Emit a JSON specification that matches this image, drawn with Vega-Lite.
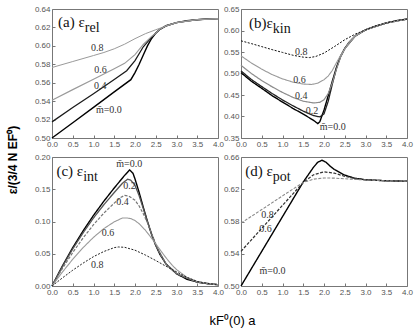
{
  "$schema": "https://vega.github.io/schema/vega-lite/v6.json",
  "background": "white",
  "padding": {"left": 6, "top": 4, "right": 2, "bottom": 5},
  "title": {"text": "ε/(3/4 N EF⁰)", "orient": "left", "anchor": "middle", "font": "Liberation Sans", "fontSize": 12, "fontWeight": "bold", "color": "black", "offset": 14, "dx": 6},
  "columns": 2,
  "spacing": {"row": 19, "column": 23},
  "bounds": "flush",
  "resolve": {"scale": {"color": "independent", "strokeDash": "independent", "strokeWidth": "independent"}},
  "datasets": {
    "a": [
      {"m": "0.0", "x": 0, "y": 0.5}, {"m": "0.0", "x": 0.5, "y": 0.5166}, {"m": "0.0", "x": 1.0, "y": 0.5333}, {"m": "0.0", "x": 1.5, "y": 0.55}, {"m": "0.0", "x": 1.9, "y": 0.5633}, {"m": "0.0", "x": 2.0, "y": 0.571}, {"m": "0.0", "x": 2.1, "y": 0.58}, {"m": "0.0", "x": 2.2, "y": 0.59}, {"m": "0.0", "x": 2.3, "y": 0.6}, {"m": "0.0", "x": 2.4, "y": 0.608}, {"m": "0.0", "x": 2.5, "y": 0.6138}, {"m": "0.0", "x": 2.6, "y": 0.618}, {"m": "0.0", "x": 2.75, "y": 0.6218}, {"m": "0.0", "x": 3.0, "y": 0.6252}, {"m": "0.0", "x": 3.25, "y": 0.6272}, {"m": "0.0", "x": 3.5, "y": 0.6284}, {"m": "0.0", "x": 3.75, "y": 0.6291}, {"m": "0.0", "x": 4.0, "y": 0.6295},
      {"m": "0.4", "x": 0, "y": 0.5175}, {"m": "0.4", "x": 0.5, "y": 0.533}, {"m": "0.4", "x": 1.0, "y": 0.548}, {"m": "0.4", "x": 1.5, "y": 0.5635}, {"m": "0.4", "x": 1.8, "y": 0.573}, {"m": "0.4", "x": 2.0, "y": 0.584}, {"m": "0.4", "x": 2.2, "y": 0.599}, {"m": "0.4", "x": 2.4, "y": 0.6095}, {"m": "0.4", "x": 2.5, "y": 0.6138}, {"m": "0.4", "x": 2.6, "y": 0.618}, {"m": "0.4", "x": 2.75, "y": 0.6218}, {"m": "0.4", "x": 3.0, "y": 0.6252}, {"m": "0.4", "x": 3.5, "y": 0.6284}, {"m": "0.4", "x": 4.0, "y": 0.6295},
      {"m": "0.6", "x": 0, "y": 0.541}, {"m": "0.6", "x": 0.5, "y": 0.5525}, {"m": "0.6", "x": 1.0, "y": 0.5638}, {"m": "0.6", "x": 1.5, "y": 0.5752}, {"m": "0.6", "x": 1.75, "y": 0.581}, {"m": "0.6", "x": 2.0, "y": 0.5905}, {"m": "0.6", "x": 2.2, "y": 0.6015}, {"m": "0.6", "x": 2.4, "y": 0.6102}, {"m": "0.6", "x": 2.5, "y": 0.6138}, {"m": "0.6", "x": 2.6, "y": 0.618}, {"m": "0.6", "x": 2.75, "y": 0.6218}, {"m": "0.6", "x": 3.0, "y": 0.6252}, {"m": "0.6", "x": 3.5, "y": 0.6284}, {"m": "0.6", "x": 4.0, "y": 0.6295},
      {"m": "0.8", "x": 0, "y": 0.5765}, {"m": "0.8", "x": 0.5, "y": 0.583}, {"m": "0.8", "x": 1.0, "y": 0.5895}, {"m": "0.8", "x": 1.25, "y": 0.5928}, {"m": "0.8", "x": 1.5, "y": 0.5968}, {"m": "0.8", "x": 1.75, "y": 0.6018}, {"m": "0.8", "x": 2.0, "y": 0.6078}, {"m": "0.8", "x": 2.25, "y": 0.6132}, {"m": "0.8", "x": 2.5, "y": 0.6175}, {"m": "0.8", "x": 2.75, "y": 0.6215}, {"m": "0.8", "x": 3.0, "y": 0.6252}, {"m": "0.8", "x": 3.5, "y": 0.6284}, {"m": "0.8", "x": 4.0, "y": 0.6295}
    ],
    "b": [
      {"m": "0.0", "x": 0, "y": 0.502}, {"m": "0.0", "x": 0.25, "y": 0.482}, {"m": "0.0", "x": 0.5, "y": 0.4655}, {"m": "0.0", "x": 0.75, "y": 0.4485}, {"m": "0.0", "x": 1.0, "y": 0.4335}, {"m": "0.0", "x": 1.25, "y": 0.419}, {"m": "0.0", "x": 1.5, "y": 0.4055}, {"m": "0.0", "x": 1.75, "y": 0.391}, {"m": "0.0", "x": 1.85, "y": 0.3835}, {"m": "0.0", "x": 1.9, "y": 0.388}, {"m": "0.0", "x": 2.0, "y": 0.415}, {"m": "0.0", "x": 2.1, "y": 0.448}, {"m": "0.0", "x": 2.2, "y": 0.482}, {"m": "0.0", "x": 2.3, "y": 0.514}, {"m": "0.0", "x": 2.4, "y": 0.54}, {"m": "0.0", "x": 2.5, "y": 0.558}, {"m": "0.0", "x": 2.6, "y": 0.572}, {"m": "0.0", "x": 2.75, "y": 0.587}, {"m": "0.0", "x": 3.0, "y": 0.6015}, {"m": "0.0", "x": 3.25, "y": 0.6105}, {"m": "0.0", "x": 3.5, "y": 0.6175}, {"m": "0.0", "x": 3.75, "y": 0.623}, {"m": "0.0", "x": 4.0, "y": 0.6265},
      {"m": "0.2", "x": 0, "y": 0.506}, {"m": "0.2", "x": 0.25, "y": 0.486}, {"m": "0.2", "x": 0.5, "y": 0.4695}, {"m": "0.2", "x": 0.75, "y": 0.4535}, {"m": "0.2", "x": 1.0, "y": 0.4385}, {"m": "0.2", "x": 1.25, "y": 0.425}, {"m": "0.2", "x": 1.5, "y": 0.4125}, {"m": "0.2", "x": 1.75, "y": 0.402}, {"m": "0.2", "x": 1.9, "y": 0.399}, {"m": "0.2", "x": 2.0, "y": 0.406}, {"m": "0.2", "x": 2.1, "y": 0.435}, {"m": "0.2", "x": 2.2, "y": 0.475}, {"m": "0.2", "x": 2.3, "y": 0.512}, {"m": "0.2", "x": 2.4, "y": 0.54}, {"m": "0.2", "x": 2.5, "y": 0.558}, {"m": "0.2", "x": 2.75, "y": 0.587}, {"m": "0.2", "x": 3.0, "y": 0.6015}, {"m": "0.2", "x": 3.5, "y": 0.6175}, {"m": "0.2", "x": 4.0, "y": 0.6265},
      {"m": "0.4", "x": 0, "y": 0.519}, {"m": "0.4", "x": 0.25, "y": 0.5}, {"m": "0.4", "x": 0.5, "y": 0.4835}, {"m": "0.4", "x": 0.75, "y": 0.469}, {"m": "0.4", "x": 1.0, "y": 0.456}, {"m": "0.4", "x": 1.25, "y": 0.4445}, {"m": "0.4", "x": 1.5, "y": 0.4355}, {"m": "0.4", "x": 1.75, "y": 0.4315}, {"m": "0.4", "x": 1.9, "y": 0.433}, {"m": "0.4", "x": 2.0, "y": 0.439}, {"m": "0.4", "x": 2.1, "y": 0.453}, {"m": "0.4", "x": 2.2, "y": 0.478}, {"m": "0.4", "x": 2.3, "y": 0.51}, {"m": "0.4", "x": 2.4, "y": 0.538}, {"m": "0.4", "x": 2.5, "y": 0.557}, {"m": "0.4", "x": 2.75, "y": 0.587}, {"m": "0.4", "x": 3.0, "y": 0.6015}, {"m": "0.4", "x": 3.5, "y": 0.6175}, {"m": "0.4", "x": 4.0, "y": 0.6265},
      {"m": "0.6", "x": 0, "y": 0.541}, {"m": "0.6", "x": 0.25, "y": 0.5245}, {"m": "0.6", "x": 0.5, "y": 0.51}, {"m": "0.6", "x": 0.75, "y": 0.4975}, {"m": "0.6", "x": 1.0, "y": 0.4875}, {"m": "0.6", "x": 1.25, "y": 0.48}, {"m": "0.6", "x": 1.5, "y": 0.4755}, {"m": "0.6", "x": 1.7, "y": 0.4745}, {"m": "0.6", "x": 1.85, "y": 0.4775}, {"m": "0.6", "x": 2.0, "y": 0.4855}, {"m": "0.6", "x": 2.1, "y": 0.494}, {"m": "0.6", "x": 2.2, "y": 0.507}, {"m": "0.6", "x": 2.3, "y": 0.525}, {"m": "0.6", "x": 2.4, "y": 0.542}, {"m": "0.6", "x": 2.5, "y": 0.557}, {"m": "0.6", "x": 2.6, "y": 0.572}, {"m": "0.6", "x": 2.75, "y": 0.587}, {"m": "0.6", "x": 3.0, "y": 0.6015}, {"m": "0.6", "x": 3.5, "y": 0.6175}, {"m": "0.6", "x": 4.0, "y": 0.6265},
      {"m": "0.8", "x": 0, "y": 0.576}, {"m": "0.8", "x": 0.25, "y": 0.5695}, {"m": "0.8", "x": 0.5, "y": 0.5625}, {"m": "0.8", "x": 0.75, "y": 0.5555}, {"m": "0.8", "x": 1.0, "y": 0.549}, {"m": "0.8", "x": 1.25, "y": 0.5425}, {"m": "0.8", "x": 1.5, "y": 0.538}, {"m": "0.8", "x": 1.65, "y": 0.537}, {"m": "0.8", "x": 1.8, "y": 0.5395}, {"m": "0.8", "x": 2.0, "y": 0.5475}, {"m": "0.8", "x": 2.25, "y": 0.5625}, {"m": "0.8", "x": 2.5, "y": 0.5785}, {"m": "0.8", "x": 2.75, "y": 0.5915}, {"m": "0.8", "x": 3.0, "y": 0.6015}, {"m": "0.8", "x": 3.25, "y": 0.6105}, {"m": "0.8", "x": 3.5, "y": 0.6175}, {"m": "0.8", "x": 3.75, "y": 0.623}, {"m": "0.8", "x": 4.0, "y": 0.6265}
    ],
    "c": [
      {"m": "0.0", "x": 0, "y": 0}, {"m": "0.0", "x": 0.25, "y": 0.031}, {"m": "0.0", "x": 0.5, "y": 0.0595}, {"m": "0.0", "x": 0.75, "y": 0.0855}, {"m": "0.0", "x": 1.0, "y": 0.1095}, {"m": "0.0", "x": 1.25, "y": 0.1315}, {"m": "0.0", "x": 1.5, "y": 0.152}, {"m": "0.0", "x": 1.75, "y": 0.1715}, {"m": "0.0", "x": 1.87, "y": 0.18}, {"m": "0.0", "x": 1.95, "y": 0.175}, {"m": "0.0", "x": 2.0, "y": 0.166}, {"m": "0.0", "x": 2.1, "y": 0.145}, {"m": "0.0", "x": 2.2, "y": 0.122}, {"m": "0.0", "x": 2.3, "y": 0.1}, {"m": "0.0", "x": 2.4, "y": 0.08}, {"m": "0.0", "x": 2.5, "y": 0.063}, {"m": "0.0", "x": 2.6, "y": 0.049}, {"m": "0.0", "x": 2.75, "y": 0.034}, {"m": "0.0", "x": 3.0, "y": 0.019}, {"m": "0.0", "x": 3.25, "y": 0.0105}, {"m": "0.0", "x": 3.5, "y": 0.006}, {"m": "0.0", "x": 3.75, "y": 0.0035}, {"m": "0.0", "x": 4.0, "y": 0.002},
      {"m": "0.2", "x": 0, "y": 0}, {"m": "0.2", "x": 0.25, "y": 0.03}, {"m": "0.2", "x": 0.5, "y": 0.0575}, {"m": "0.2", "x": 0.75, "y": 0.0825}, {"m": "0.2", "x": 1.0, "y": 0.1055}, {"m": "0.2", "x": 1.25, "y": 0.126}, {"m": "0.2", "x": 1.5, "y": 0.145}, {"m": "0.2", "x": 1.7, "y": 0.1595}, {"m": "0.2", "x": 1.82, "y": 0.1655}, {"m": "0.2", "x": 1.9, "y": 0.164}, {"m": "0.2", "x": 2.0, "y": 0.156}, {"m": "0.2", "x": 2.1, "y": 0.14}, {"m": "0.2", "x": 2.2, "y": 0.12}, {"m": "0.2", "x": 2.3, "y": 0.1}, {"m": "0.2", "x": 2.4, "y": 0.08}, {"m": "0.2", "x": 2.5, "y": 0.063}, {"m": "0.2", "x": 2.75, "y": 0.034}, {"m": "0.2", "x": 3.0, "y": 0.019}, {"m": "0.2", "x": 3.5, "y": 0.006}, {"m": "0.2", "x": 4.0, "y": 0.002},
      {"m": "0.4", "x": 0, "y": 0}, {"m": "0.4", "x": 0.25, "y": 0.027}, {"m": "0.4", "x": 0.5, "y": 0.052}, {"m": "0.4", "x": 0.75, "y": 0.0745}, {"m": "0.4", "x": 1.0, "y": 0.095}, {"m": "0.4", "x": 1.25, "y": 0.113}, {"m": "0.4", "x": 1.5, "y": 0.1285}, {"m": "0.4", "x": 1.65, "y": 0.137}, {"m": "0.4", "x": 1.75, "y": 0.1405}, {"m": "0.4", "x": 1.85, "y": 0.1395}, {"m": "0.4", "x": 2.0, "y": 0.133}, {"m": "0.4", "x": 2.1, "y": 0.124}, {"m": "0.4", "x": 2.2, "y": 0.112}, {"m": "0.4", "x": 2.3, "y": 0.098}, {"m": "0.4", "x": 2.4, "y": 0.0815}, {"m": "0.4", "x": 2.5, "y": 0.065}, {"m": "0.4", "x": 2.6, "y": 0.05}, {"m": "0.4", "x": 2.75, "y": 0.0345}, {"m": "0.4", "x": 3.0, "y": 0.019}, {"m": "0.4", "x": 3.5, "y": 0.006}, {"m": "0.4", "x": 4.0, "y": 0.002},
      {"m": "0.6", "x": 0, "y": 0}, {"m": "0.6", "x": 0.25, "y": 0.0215}, {"m": "0.6", "x": 0.5, "y": 0.0415}, {"m": "0.6", "x": 0.75, "y": 0.0595}, {"m": "0.6", "x": 1.0, "y": 0.0755}, {"m": "0.6", "x": 1.25, "y": 0.089}, {"m": "0.6", "x": 1.5, "y": 0.0995}, {"m": "0.6", "x": 1.7, "y": 0.1055}, {"m": "0.6", "x": 1.8, "y": 0.1055}, {"m": "0.6", "x": 1.9, "y": 0.1045}, {"m": "0.6", "x": 2.0, "y": 0.1015}, {"m": "0.6", "x": 2.1, "y": 0.0965}, {"m": "0.6", "x": 2.25, "y": 0.0865}, {"m": "0.6", "x": 2.4, "y": 0.074}, {"m": "0.6", "x": 2.5, "y": 0.0655}, {"m": "0.6", "x": 2.6, "y": 0.0565}, {"m": "0.6", "x": 2.75, "y": 0.0435}, {"m": "0.6", "x": 2.9, "y": 0.032}, {"m": "0.6", "x": 3.0, "y": 0.0255}, {"m": "0.6", "x": 3.25, "y": 0.0135}, {"m": "0.6", "x": 3.5, "y": 0.007}, {"m": "0.6", "x": 3.75, "y": 0.004}, {"m": "0.6", "x": 4.0, "y": 0.002},
      {"m": "0.8", "x": 0, "y": 0}, {"m": "0.8", "x": 0.25, "y": 0.0125}, {"m": "0.8", "x": 0.5, "y": 0.0245}, {"m": "0.8", "x": 0.75, "y": 0.0355}, {"m": "0.8", "x": 1.0, "y": 0.0455}, {"m": "0.8", "x": 1.25, "y": 0.0535}, {"m": "0.8", "x": 1.5, "y": 0.0595}, {"m": "0.8", "x": 1.6, "y": 0.0605}, {"m": "0.8", "x": 1.75, "y": 0.06}, {"m": "0.8", "x": 2.0, "y": 0.0555}, {"m": "0.8", "x": 2.25, "y": 0.048}, {"m": "0.8", "x": 2.5, "y": 0.0395}, {"m": "0.8", "x": 2.75, "y": 0.0305}, {"m": "0.8", "x": 3.0, "y": 0.022}, {"m": "0.8", "x": 3.25, "y": 0.0135}, {"m": "0.8", "x": 3.5, "y": 0.007}, {"m": "0.8", "x": 3.75, "y": 0.004}, {"m": "0.8", "x": 4.0, "y": 0.002}
    ],
    "d": [
      {"m": "0.0", "x": 0, "y": 0.5}, {"m": "0.0", "x": 0.5, "y": 0.543}, {"m": "0.0", "x": 1.0, "y": 0.586}, {"m": "0.0", "x": 1.5, "y": 0.629}, {"m": "0.0", "x": 1.75, "y": 0.6475}, {"m": "0.0", "x": 1.85, "y": 0.6535}, {"m": "0.0", "x": 1.95, "y": 0.656}, {"m": "0.0", "x": 2.05, "y": 0.6535}, {"m": "0.0", "x": 2.15, "y": 0.6485}, {"m": "0.0", "x": 2.25, "y": 0.6445}, {"m": "0.0", "x": 2.5, "y": 0.6375}, {"m": "0.0", "x": 2.75, "y": 0.6335}, {"m": "0.0", "x": 3.0, "y": 0.6318}, {"m": "0.0", "x": 3.5, "y": 0.6305}, {"m": "0.0", "x": 4.0, "y": 0.63},
      {"m": "0.6", "x": 0, "y": 0.543}, {"m": "0.6", "x": 0.5, "y": 0.5715}, {"m": "0.6", "x": 1.0, "y": 0.6}, {"m": "0.6", "x": 1.5, "y": 0.6285}, {"m": "0.6", "x": 1.75, "y": 0.638}, {"m": "0.6", "x": 2.0, "y": 0.6415}, {"m": "0.6", "x": 2.25, "y": 0.64}, {"m": "0.6", "x": 2.5, "y": 0.636}, {"m": "0.6", "x": 2.75, "y": 0.6335}, {"m": "0.6", "x": 3.0, "y": 0.6318}, {"m": "0.6", "x": 3.5, "y": 0.6305}, {"m": "0.6", "x": 4.0, "y": 0.63},
      {"m": "0.8", "x": 0, "y": 0.578}, {"m": "0.8", "x": 0.5, "y": 0.5948}, {"m": "0.8", "x": 1.0, "y": 0.6118}, {"m": "0.8", "x": 1.5, "y": 0.6285}, {"m": "0.8", "x": 1.75, "y": 0.6325}, {"m": "0.8", "x": 2.0, "y": 0.634}, {"m": "0.8", "x": 2.25, "y": 0.6338}, {"m": "0.8", "x": 2.5, "y": 0.633}, {"m": "0.8", "x": 2.75, "y": 0.6322}, {"m": "0.8", "x": 3.0, "y": 0.6315}, {"m": "0.8", "x": 3.5, "y": 0.6305}, {"m": "0.8", "x": 4.0, "y": 0.63}
    ],
    "labels": [
      {"panel": "a", "x": 1.09, "y": 0.5975, "text": "0.8"}, {"panel": "a", "x": 1.17, "y": 0.5735, "text": "0.6"}, {"panel": "a", "x": 1.16, "y": 0.5565, "text": "0.4"}, {"panel": "a", "x": 1.37, "y": 0.53, "text": "m̄=0.0"},
      {"panel": "b", "x": 1.45, "y": 0.5495, "text": "0.8"}, {"panel": "b", "x": 1.41, "y": 0.4855, "text": "0.6"}, {"panel": "b", "x": 1.45, "y": 0.447, "text": "0.4"}, {"panel": "b", "x": 1.71, "y": 0.4135, "text": "0.2"}, {"panel": "b", "x": 2.21, "y": 0.3745, "text": "m̄=0.0"},
      {"panel": "c", "x": 1.86, "y": 0.1887, "text": "m̄=0.0"}, {"panel": "c", "x": 1.87, "y": 0.1554, "text": "0.2"}, {"panel": "c", "x": 1.7, "y": 0.1297, "text": "0.4"}, {"panel": "c", "x": 1.35, "y": 0.082, "text": "0.6"}, {"panel": "c", "x": 1.09, "y": 0.0333, "text": "0.8"},
      {"panel": "d", "x": 0.64, "y": 0.5878, "text": "0.8"}, {"panel": "d", "x": 0.59, "y": 0.5705, "text": "0.6"}, {"panel": "d", "x": 0.76, "y": 0.518, "text": "m̄=0.0"}
    ],
    "heads": [
      {"panel": "a", "x": 0.79, "y": 0.6205, "main": "(a) ε", "sub": "rel"},
      {"panel": "b", "x": 0.765, "y": 0.6055, "main": "(b)ε", "sub": "kin"},
      {"panel": "c", "x": 0.75, "y": 0.1705, "main": "(c) ε", "sub": "int"},
      {"panel": "d", "x": 0.765, "y": 0.636, "main": "(d) ε", "sub": "pot"}
    ]
  },
  "concat": [
    {
      "width": 166, "height": 129,
      "encoding": {
        "x": {"field": "x", "type": "quantitative", "title": null, "scale": {"domain": [0, 4], "nice": false}, "axis": {"values": [0, 0.5, 1, 1.5, 2, 2.5, 3, 3.5, 4], "format": ".1f"}},
        "y": {"field": "y", "type": "quantitative", "title": null, "scale": {"domain": [0.5, 0.64], "nice": false, "zero": false}, "axis": {"values": [0.5, 0.52, 0.54, 0.56, 0.58, 0.6, 0.62, 0.64], "format": ".2f"}}
      },
      "layer": [
        {"data": {"name": "a"}, "mark": {"type": "line"},
         "encoding": {
           "color": {"field": "m", "type": "nominal", "legend": null, "scale": {"domain": ["0.0", "0.4", "0.6", "0.8"], "range": ["#000000", "#1a1a1a", "#9a9a9a", "#9a9a9a"]}},
           "strokeWidth": {"field": "m", "type": "nominal", "legend": null, "scale": {"domain": ["0.0", "0.4", "0.6", "0.8"], "range": [1.4, 1, 1.1, 1.1]}}
         }},
        {"data": {"name": "labels"}, "transform": [{"filter": "datum.panel == 'a'"}], "mark": {"type": "text", "font": "Liberation Serif", "fontSize": 10, "color": "#333"}, "encoding": {"text": {"field": "text"}}},
        {"data": {"name": "heads"}, "transform": [{"filter": "datum.panel == 'a'"}], "mark": {"type": "text", "font": "Liberation Serif", "fontSize": 15, "align": "right", "baseline": "alphabetic", "color": "#111"}, "encoding": {"text": {"field": "main"}}},
        {"data": {"name": "heads"}, "transform": [{"filter": "datum.panel == 'a'"}], "mark": {"type": "text", "font": "Liberation Serif", "fontSize": 14, "align": "left", "baseline": "alphabetic", "dy": 5, "color": "#111"}, "encoding": {"text": {"field": "sub"}}}
      ]
    },
    {
      "width": 166, "height": 129,
      "encoding": {
        "x": {"field": "x", "type": "quantitative", "title": null, "scale": {"domain": [0, 4], "nice": false}, "axis": {"values": [0, 0.5, 1, 1.5, 2, 2.5, 3, 3.5, 4], "format": ".1f"}},
        "y": {"field": "y", "type": "quantitative", "title": null, "scale": {"domain": [0.35, 0.65], "nice": false, "zero": false}, "axis": {"values": [0.35, 0.4, 0.45, 0.5, 0.55, 0.6, 0.65], "format": ".2f"}}
      },
      "layer": [
        {"data": {"name": "b"}, "mark": {"type": "line"},
         "encoding": {
           "color": {"field": "m", "type": "nominal", "legend": null, "scale": {"domain": ["0.0", "0.2", "0.4", "0.6", "0.8"], "range": ["#000000", "#222222", "#8c8c8c", "#9a9a9a", "#111111"]}},
           "strokeWidth": {"field": "m", "type": "nominal", "legend": null, "scale": {"domain": ["0.0", "0.2", "0.4", "0.6", "0.8"], "range": [1.4, 1, 1.1, 1.1, 1.3]}},
           "strokeDash": {"field": "m", "type": "nominal", "legend": null, "scale": {"domain": ["0.0", "0.2", "0.4", "0.6", "0.8"], "range": [[1, 0], [1, 0], [1, 0], [1, 0], [2, 1.5]]}}
         }},
        {"data": {"name": "labels"}, "transform": [{"filter": "datum.panel == 'b'"}], "mark": {"type": "text", "font": "Liberation Serif", "fontSize": 10, "color": "#333"}, "encoding": {"text": {"field": "text"}}},
        {"data": {"name": "heads"}, "transform": [{"filter": "datum.panel == 'b'"}], "mark": {"type": "text", "font": "Liberation Serif", "fontSize": 15, "align": "right", "baseline": "alphabetic", "color": "#111"}, "encoding": {"text": {"field": "main"}}},
        {"data": {"name": "heads"}, "transform": [{"filter": "datum.panel == 'b'"}], "mark": {"type": "text", "font": "Liberation Serif", "fontSize": 14, "align": "left", "baseline": "alphabetic", "dy": 5, "color": "#111"}, "encoding": {"text": {"field": "sub"}}}
      ]
    },
    {
      "width": 166, "height": 129,
      "encoding": {
        "x": {"field": "x", "type": "quantitative", "title": "kF⁰(0) a", "scale": {"domain": [0, 4], "nice": false}, "axis": {"values": [0, 0.5, 1, 1.5, 2, 2.5, 3, 3.5, 4], "format": ".1f", "titleX": 180, "titleY": 28, "titleFont": "Liberation Sans", "titleFontSize": 13, "titleFontWeight": "normal", "titleColor": "black"}},
        "y": {"field": "y", "type": "quantitative", "title": null, "scale": {"domain": [0, 0.2], "nice": false, "zero": false}, "axis": {"values": [0, 0.05, 0.1, 0.15, 0.2], "format": ".2f"}}
      },
      "layer": [
        {"data": {"name": "c"}, "mark": {"type": "line"},
         "encoding": {
           "color": {"field": "m", "type": "nominal", "legend": null, "scale": {"domain": ["0.0", "0.2", "0.4", "0.6", "0.8"], "range": ["#000000", "#555555", "#777777", "#9a9a9a", "#222222"]}},
           "strokeWidth": {"field": "m", "type": "nominal", "legend": null, "scale": {"domain": ["0.0", "0.2", "0.4", "0.6", "0.8"], "range": [1.4, 1, 1, 1.1, 1.2]}},
           "strokeDash": {"field": "m", "type": "nominal", "legend": null, "scale": {"domain": ["0.0", "0.2", "0.4", "0.6", "0.8"], "range": [[1, 0], [1, 0], [3, 1.5], [1, 0], [2, 1.5]]}}
         }},
        {"data": {"name": "labels"}, "transform": [{"filter": "datum.panel == 'c'"}], "mark": {"type": "text", "font": "Liberation Serif", "fontSize": 10, "color": "#333"}, "encoding": {"text": {"field": "text"}}},
        {"data": {"name": "heads"}, "transform": [{"filter": "datum.panel == 'c'"}], "mark": {"type": "text", "font": "Liberation Serif", "fontSize": 15, "align": "right", "baseline": "alphabetic", "color": "#111"}, "encoding": {"text": {"field": "main"}}},
        {"data": {"name": "heads"}, "transform": [{"filter": "datum.panel == 'c'"}], "mark": {"type": "text", "font": "Liberation Serif", "fontSize": 14, "align": "left", "baseline": "alphabetic", "dy": 5, "color": "#111"}, "encoding": {"text": {"field": "sub"}}}
      ]
    },
    {
      "width": 166, "height": 129,
      "encoding": {
        "x": {"field": "x", "type": "quantitative", "title": null, "scale": {"domain": [0, 4], "nice": false}, "axis": {"values": [0, 0.5, 1, 1.5, 2, 2.5, 3, 3.5, 4], "format": ".1f"}},
        "y": {"field": "y", "type": "quantitative", "title": null, "scale": {"domain": [0.5, 0.66], "nice": false, "zero": false}, "axis": {"values": [0.5, 0.54, 0.58, 0.62, 0.66], "format": ".2f"}}
      },
      "layer": [
        {"data": {"name": "d"}, "mark": {"type": "line"},
         "encoding": {
           "color": {"field": "m", "type": "nominal", "legend": null, "scale": {"domain": ["0.0", "0.6", "0.8"], "range": ["#000000", "#333333", "#888888"]}},
           "strokeWidth": {"field": "m", "type": "nominal", "legend": null, "scale": {"domain": ["0.0", "0.6", "0.8"], "range": [1.4, 1.1, 1.1]}},
           "strokeDash": {"field": "m", "type": "nominal", "legend": null, "scale": {"domain": ["0.0", "0.6", "0.8"], "range": [[1, 0], [3, 1.5], [3, 1.5]]}}
         }},
        {"data": {"name": "labels"}, "transform": [{"filter": "datum.panel == 'd'"}], "mark": {"type": "text", "font": "Liberation Serif", "fontSize": 10, "color": "#333"}, "encoding": {"text": {"field": "text"}}},
        {"data": {"name": "heads"}, "transform": [{"filter": "datum.panel == 'd'"}], "mark": {"type": "text", "font": "Liberation Serif", "fontSize": 15, "align": "right", "baseline": "alphabetic", "color": "#111"}, "encoding": {"text": {"field": "main"}}},
        {"data": {"name": "heads"}, "transform": [{"filter": "datum.panel == 'd'"}], "mark": {"type": "text", "font": "Liberation Serif", "fontSize": 14, "align": "left", "baseline": "alphabetic", "dy": 5, "color": "#111"}, "encoding": {"text": {"field": "sub"}}}
      ]
    }
  ],
  "config": {
    "view": {"stroke": "#777777", "strokeWidth": 1},
    "axis": {"domain": false, "grid": false, "tickColor": "#777777", "tickSize": -3, "labelFont": "Liberation Sans", "labelFontSize": 8, "labelColor": "#555555", "labelFlush": false},
    "axisX": {"labelPadding": 5},
    "axisY": {"labelPadding": 5}
  }
}
